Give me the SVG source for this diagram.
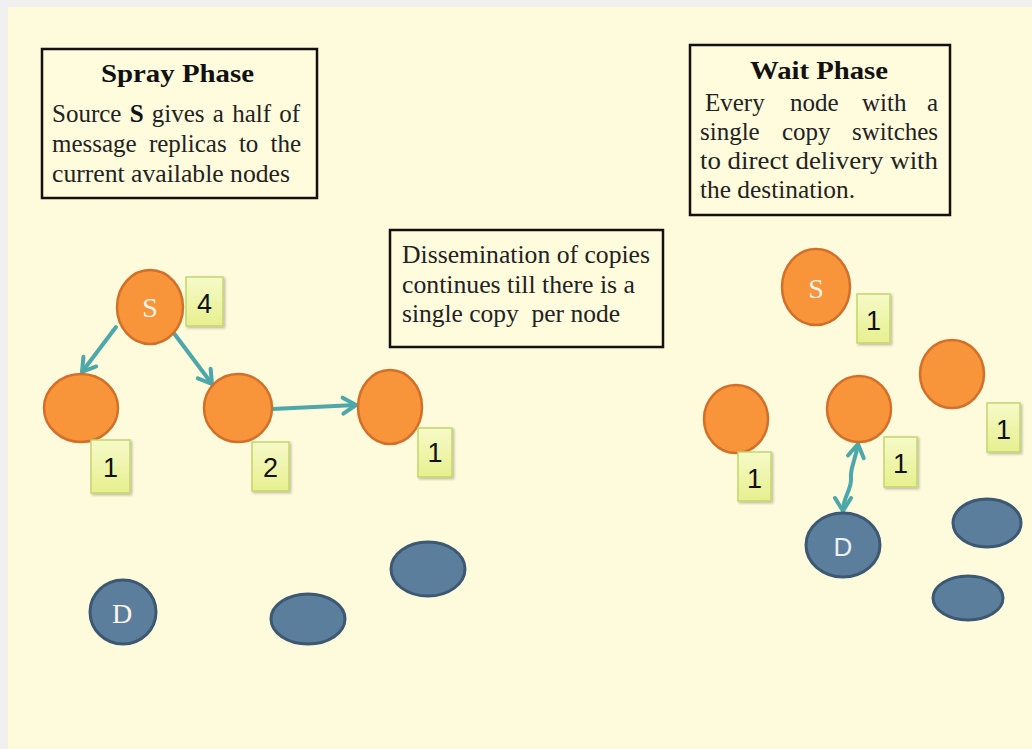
<svg xmlns="http://www.w3.org/2000/svg" width="1032" height="749" viewBox="0 0 1032 749">
<defs>
<style>
.box{fill:#FFFBDD;stroke:#111;stroke-width:2.5}
.serif{font-family:"Liberation Serif","Times New Roman",serif;fill:#222}
.title{font-size:26px;font-weight:bold;fill:#111}
.body{font-size:25px}
.orange{fill:#F8943A;stroke:#D2702A;stroke-width:2.5}
.blue{fill:#5B7E9C;stroke:#3C5872;stroke-width:3}
.lbl{fill:url(#lg);stroke:#C3D66C;stroke-width:1.5;filter:url(#sh)}
.num{font-family:"Liberation Sans",Arial,sans-serif;font-size:27px;fill:#111;text-anchor:middle}
.nt{font-family:"Liberation Serif","Times New Roman",serif;font-size:28px;fill:#FFF4E8;text-anchor:middle}
.conn{fill:none;stroke:#4CA8AA;stroke-width:4;stroke-linecap:round}
</style>
<linearGradient id="lg" x1="0" y1="0" x2="0" y2="1">
<stop offset="0" stop-color="#F6FAC8"/>
<stop offset="1" stop-color="#E6F08E"/>
</linearGradient>
<filter id="sh" x="-20%" y="-20%" width="150%" height="150%">
<feDropShadow dx="1.5" dy="1.5" stdDeviation="1" flood-color="#000" flood-opacity="0.25"/>
</filter>
<marker id="ah" markerUnits="userSpaceOnUse" markerWidth="22" markerHeight="22" viewBox="0 0 22 22" refX="18" refY="11" orient="auto-start-reverse">
<path d="M5,3 L18,11 L5,19" fill="none" stroke="#4CA8AA" stroke-width="4" stroke-linecap="round" stroke-linejoin="round"/>
</marker>
</defs>
<rect x="0" y="0" width="1032" height="749" fill="#F0F0F0"/>
<rect x="8" y="7" width="1024" height="742" fill="#FEFADC"/>

<g id="spray-box">
<rect class="box" x="42" y="49" width="275" height="149"/>
<text class="serif title" x="101" y="82" textLength="153" lengthAdjust="spacingAndGlyphs">Spray Phase</text>
<text class="serif body" x="52" y="122" word-spacing="2">Source <tspan font-weight="bold" fill="#111">S</tspan> gives a half of</text>
<text class="serif body" x="52" y="152" word-spacing="6">message replicas to the</text>
<text class="serif body" x="52" y="182" textLength="238" lengthAdjust="spacingAndGlyphs">current available nodes</text>
</g>

<g id="wait-box">
<rect class="box" x="690" y="45" width="260" height="170"/>
<text class="serif title" x="750" y="79" textLength="138" lengthAdjust="spacingAndGlyphs">Wait Phase</text>
<text class="serif body" y="111"><tspan x="705">Every</tspan><tspan x="790">node</tspan><tspan x="862">with</tspan><tspan x="927">a</tspan></text>
<text class="serif body" y="140"><tspan x="700">single</tspan><tspan x="782">copy</tspan><tspan x="852">switches</tspan></text>
<text class="serif body" x="700" y="169" textLength="238" lengthAdjust="spacingAndGlyphs">to direct delivery with</text>
<text class="serif body" x="700" y="198" textLength="155" lengthAdjust="spacingAndGlyphs">the destination.</text>
</g>

<g id="note-box">
<rect class="box" x="390" y="230" width="273" height="117"/>
<text class="serif body" x="402" y="263" textLength="248" lengthAdjust="spacingAndGlyphs">Dissemination of copies</text>
<text class="serif body" x="402" y="293" textLength="233" lengthAdjust="spacingAndGlyphs">continues till there is a</text>
<text class="serif body" x="402" y="322" textLength="218" lengthAdjust="spacingAndGlyphs" style="white-space:pre">single copy  per node</text>
</g>

<g id="connectors">
<line class="conn" x1="116" y1="327" x2="82" y2="372" marker-end="url(#ah)"/>
<line class="conn" x1="173" y1="332" x2="212" y2="384" marker-end="url(#ah)"/>
<line class="conn" x1="272" y1="409" x2="356" y2="405" marker-end="url(#ah)"/>
<path class="conn" d="M858,444 C855,462 850,468 851,478 C852,490 843,496 843,511" marker-start="url(#ah)" marker-end="url(#ah)"/>
</g>

<g id="spray-S">
<ellipse class="orange" cx="150" cy="307" rx="33" ry="37"/>
<text class="nt" x="150" y="317">S</text>
<rect class="lbl" x="186" y="277" width="37" height="49"/>
<text class="num" x="204.5" y="313">4</text>
</g>
<g id="spray-n1">
<ellipse class="orange" cx="81" cy="408" rx="37" ry="34"/>
<rect class="lbl" x="91" y="440" width="39" height="53"/>
<text class="num" x="110.5" y="477">1</text>
</g>
<g id="spray-n2">
<ellipse class="orange" cx="238" cy="408" rx="34" ry="34"/>
<rect class="lbl" x="252" y="442" width="37" height="49"/>
<text class="num" x="270.5" y="477">2</text>
</g>
<g id="spray-n3">
<ellipse class="orange" cx="390" cy="407" rx="32" ry="37"/>
<rect class="lbl" x="418" y="428" width="34" height="49"/>
<text class="num" x="435" y="462">1</text>
</g>
<g id="spray-D">
<ellipse class="blue" cx="123" cy="612" rx="33" ry="32"/>
<text class="nt" x="122" y="623" font-size="30" fill="#EEF0F2">D</text>
</g>
<g id="spray-b1">
<ellipse class="blue" cx="308" cy="619" rx="37" ry="25"/>
</g>
<g id="spray-b2">
<ellipse class="blue" cx="428" cy="569" rx="37" ry="27"/>
</g>

<g id="wait-S">
<ellipse class="orange" cx="816" cy="287" rx="34" ry="38"/>
<text class="nt" x="816" y="298">S</text>
<rect class="lbl" x="857" y="294" width="33" height="49"/>
<text class="num" x="873.5" y="330">1</text>
</g>
<g id="wait-n1">
<ellipse class="orange" cx="736" cy="419" rx="32" ry="34"/>
<rect class="lbl" x="738" y="452" width="33" height="49"/>
<text class="num" x="754.5" y="488">1</text>
</g>
<g id="wait-n2">
<ellipse class="orange" cx="859" cy="409" rx="32" ry="33"/>
<rect class="lbl" x="884" y="437" width="33" height="50"/>
<text class="num" x="900.5" y="473">1</text>
</g>
<g id="wait-n3">
<ellipse class="orange" cx="952" cy="374" rx="32" ry="34"/>
<rect class="lbl" x="987" y="403" width="33" height="49"/>
<text class="num" x="1003.5" y="439">1</text>
</g>
<g id="wait-D">
<ellipse class="blue" cx="843" cy="545" rx="37" ry="32"/>
<text x="843" y="556" font-family="'Liberation Sans',Arial,sans-serif" font-size="26" fill="#EEF0F2" text-anchor="middle">D</text>
</g>
<g id="wait-b1">
<ellipse class="blue" cx="987" cy="523" rx="34" ry="24"/>
</g>
<g id="wait-b2">
<ellipse class="blue" cx="968" cy="598" rx="35" ry="22"/>
</g>
</svg>
